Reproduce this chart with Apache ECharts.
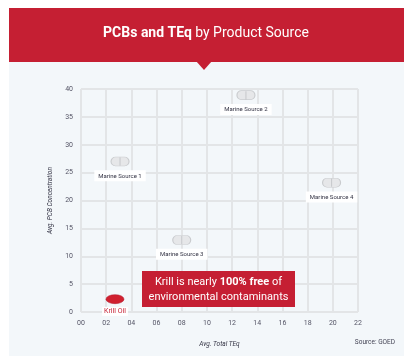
<!DOCTYPE html>
<html>
<head>
<meta charset="utf-8">
<script src="https://cdn.jsdelivr.net/npm/echarts@6/dist/echarts.min.js"></script>
<style>
html,body{margin:0;padding:0;background:#fff;}
#c{width:416px;height:356px;}
</style>
</head>
<body>
<div id="c"></div>
<script>
// Data
var sourceNames = ['Marine Source 1', 'Marine Source 2', 'Marine Source 3', 'Marine Source 4'];
var sourceTEq = [3.1, 13.1, 8.0, 19.9];
var sourcePCB = [27.0, 38.9, 12.9, 23.2];
var krillName = ['Krill Oil'];
var krillTEq = [2.7];
var krillPCB = [2.3];
var xTickLabels = ['00','02','04','06','08','10','12','14','16','18','20','22'];
var yTickLabels = ['0','5','10','15','20','25','30','35','40'];

var RED = '#c51f33';
var pill = 'path://M4.5,0 H13.5 A4.5,4.5 0 0 1 13.5,9 H4.5 A4.5,4.5 0 0 1 4.5,0 Z M9,0.5 V8.5';

var chart = echarts.init(document.getElementById('c'), null, {renderer: 'canvas'});

var option = {
  animation: false,
  backgroundColor: '#ffffff',
  graphic: [
    {type: 'rect', z: -10, shape: {x: 9, y: 62, width: 395, height: 294}, style: {fill: '#f3f7fa'}},
    {type: 'rect', z: 1, shape: {x: 9, y: 8, width: 395, height: 54}, style: {fill: RED}},
    {type: 'polygon', z: 1, shape: {points: [[196, 61], [212, 61], [204, 70]]}, style: {fill: RED}},
    {type: 'text', z: 2, x: 206, y: 33,
      style: {
        text: '{b|PCBs and TEq} {n|by Product Source}',
        align: 'center', verticalAlign: 'middle',
        rich: {
          b: {fontFamily: 'Roboto', fontWeight: 'bold', fontSize: 14, fill: '#fff'},
          n: {fontFamily: 'Roboto', fontWeight: 'normal', fontSize: 14, fill: '#fff'}
        }
      }
    },
    {type: 'rect', z: 20, shape: {x: 142, y: 271, width: 153, height: 36}, style: {fill: RED}},
    {type: 'text', z: 21, x: 218.5, y: 289.5,
      style: {
        text: '{n|Krill is nearly }{b|100% free}{n| of}\n{n|environmental contaminants}',
        align: 'center', verticalAlign: 'middle',
        rich: {
          b: {fontFamily: 'Roboto', fontWeight: 'bold', fontSize: 11, fill: '#fff', lineHeight: 15},
          n: {fontFamily: 'Roboto', fontSize: 11, fill: '#fff', lineHeight: 15}
        }
      }
    },
    {type: 'text', z: 5, x: 395, y: 342,
      style: {text: 'Source: GOED', align: 'right', verticalAlign: 'middle', fontFamily: 'Roboto', fontSize: 6.5, fill: '#445'}}
  ],
  grid: {left: 81, right: 58, top: 89, bottom: 44, containLabel: false},
  xAxis: {
    type: 'value', min: 0, max: 22, interval: 2,
    name: 'Avg. Total TEq', nameLocation: 'middle', nameGap: 29,
    nameTextStyle: {fontFamily: 'Roboto', fontStyle: 'italic', fontSize: 6.5, color: '#334'},
    axisLine: {show: false}, axisTick: {show: false},
    axisLabel: {fontFamily: 'Roboto', fontSize: 7, color: '#556', margin: 8,
      formatter: function (v) { return xTickLabels[Math.round(v / 2)]; }},
    splitLine: {show: true, lineStyle: {color: '#e3e5e7', width: 2}}
  },
  yAxis: {
    type: 'value', min: 0, max: 40, interval: 5,
    name: 'Avg. PCB Concentration', nameLocation: 'middle', nameGap: 27, nameRotate: 90,
    nameTextStyle: {fontFamily: 'Roboto', fontStyle: 'italic', fontSize: 6.5, color: '#334'},
    axisLine: {show: false}, axisTick: {show: false},
    axisLabel: {fontFamily: 'Roboto', fontSize: 7, color: '#556', margin: 8,
      formatter: function (v) { return yTickLabels[Math.round(v / 5)]; }},
    splitLine: {show: true, lineStyle: {color: '#e3e5e7', width: 2}}
  },
  series: [
    {
      type: 'scatter', z: 3,
      symbol: pill, symbolSize: [18, 9],
      itemStyle: {color: '#e6e7e9', borderColor: '#c9cbce', borderWidth: 0.8, opacity: 1},
      label: {
        show: true, position: 'bottom', distance: 4,
        formatter: function (p) { return p.data[2]; },
        fontFamily: 'Roboto', fontSize: 6, color: '#334',
        backgroundColor: '#ffffff', padding: [3, 4, 2, 4]
      },
      data: sourceNames.map(function (n, i) { return [sourceTEq[i], sourcePCB[i], n]; })
    },
    {
      type: 'scatter', z: 4,
      symbol: 'circle', symbolSize: [18, 9],
      itemStyle: {color: '#d0202f', borderColor: '#b3152a', borderWidth: 0.5, opacity: 1},
      label: {
        show: true, position: 'bottom', distance: 3,
        formatter: function (p) { return p.data[2]; },
        fontFamily: 'Roboto', fontSize: 7, color: RED,
        backgroundColor: '#ffffff', padding: [1, 2, 1, 2]
      },
      data: krillName.map(function (n, i) { return [krillTEq[i], krillPCB[i], n]; })
    }
  ]
};
chart.setOption(option);
</script>
</body>
</html>
